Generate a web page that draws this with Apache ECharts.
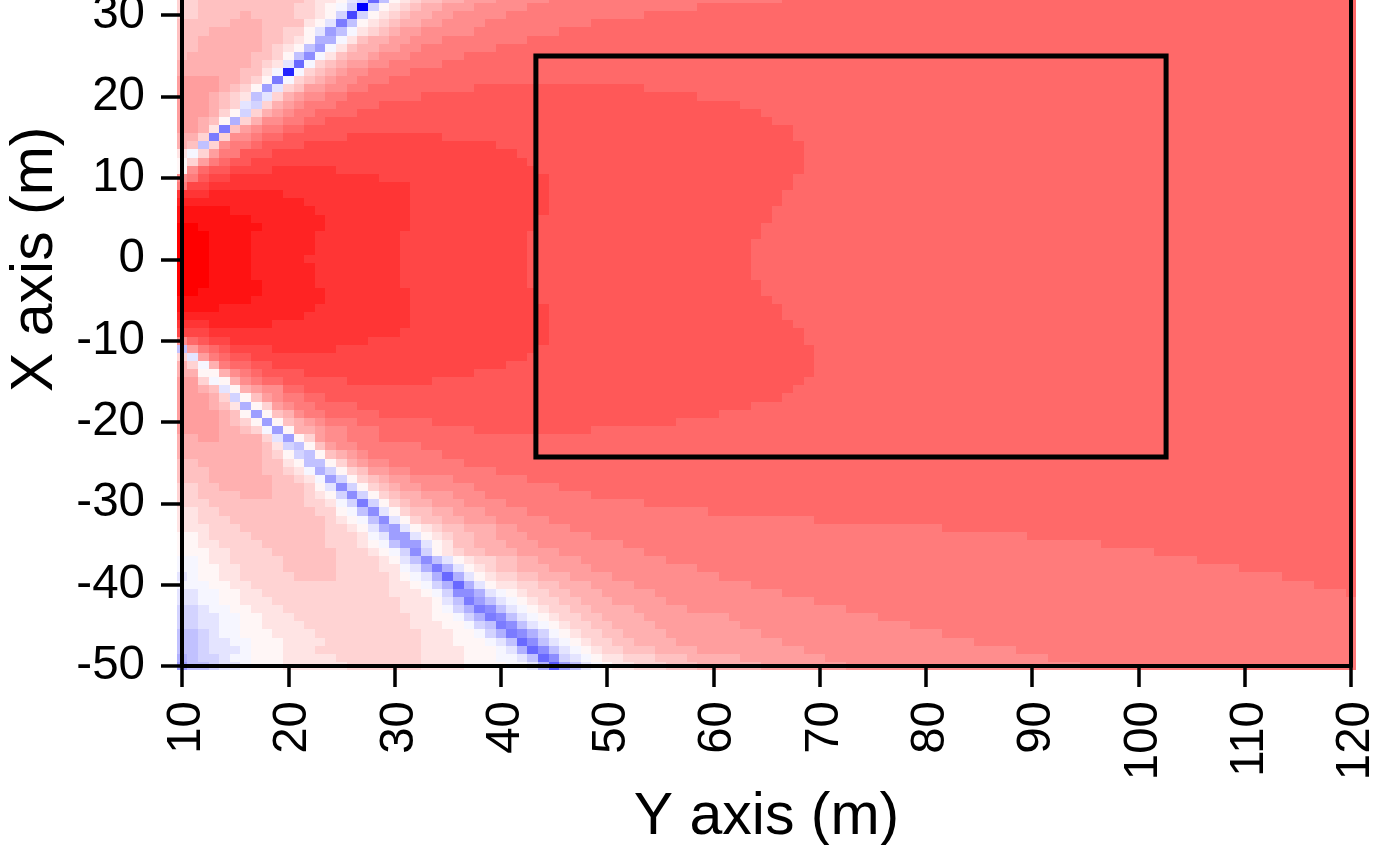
<!DOCTYPE html>
<html>
<head>
<meta charset="utf-8">
<style>html,body{margin:0;padding:0;background:#fff}#c{width:1373px;height:845px}</style>
<script src="https://cdn.jsdelivr.net/npm/echarts@6/dist/echarts.min.js"></script>
</head>
<body>
<div id="c"></div>
<script>
// Y axis (m) ticks along the bottom, X axis (m) ticks up the side
const xTicks = [10,20,30,40,50,60,70,80,90,100,110,120];
const yTicks = [-50,-40,-30,-20,-10,0,10,20,30,40,50];
const xFirst = 10, xLast = 120;
const yFirstRow = 32;
// Signed colour level per cell, top row first.
// Each token is level:lastColumn (a bare level runs to the last column).
const rows = [
"3:11 4:21 3:22 2:24 1:25 -2:26 -3:27 -9:28 -4:29 1:30 2:31 3:32 4:34 5:36 6:39 7:44 8:66 9",
"3:11 4:20 3:22 2:23 1:24 -1:25 -3:26 -15:27 -3:28 1:29 2:30 3:31 4:32 5:34 6:37 7:42 8:58 9",
"3:11 4:15 5:16 4:20 3:22 2:23 1:24 -3:25 -11:26 -3:27 1:28 2:29 3:30 4:31 5:33 6:35 7:40 8:53 9",
"4:14 5:17 4:21 2:22 1:23 -2:24 -8:25 -4:26 1:27 2:28 3:29 4:30 5:32 6:34 7:38 8:48 9",
"4:12 5:17 4:19 3:21 1:22 -2:23 -6:24 -4:25 -1:26 2:27 3:28 4:29 5:30 6:32 7:37 8:45 9",
"4:11 5:17 4:19 3:20 2:21 1:22 -5:24 -1:25 2:26 4:27 5:29 6:31 7:34 8:42 9",
"4:11 5:17 4:18 3:19 2:20 1:21 -4:22 -6:23 -1:24 2:25 4:26 5:28 6:30 7:32 8:39 9",
"4:10 5:16 4:18 3:19 1:20 -4:21 -7:22 -1:23 2:24 4:25 5:27 6:28 7:31 8:36 9",
"5:16 4:17 3:18 2:19 -2:20 -9:21 -1:22 3:23 4:24 5:25 6:27 7:29 8:34 9",
"5:15 4:17 2:18 -1:19 -13:20 -1:21 3:22 4:23 5:24 6:25 7:27 8:31 9",
"6:13 5:15 4:16 3:17 1:18 -8:19 -1:20 3:21 4:22 5:23 6:24 7:26 8:29 9",
"6:13 5:14 4:15 3:16 1:17 -6:18 -2:19 3:20 4:21 6:23 7:25 8:27 9:37 10:53 9",
"6:12 5:13 4:14 3:15 2:16 -4:17 -2:18 3:19 5:20 6:21 7:23 8:25 9:32 10:58 9",
"6:12 5:13 4:14 3:15 -2:16 -3:17 3:18 5:19 6:20 7:21 8:24 9:28 10:62 9",
"6:12 5:13 3:14 1:15 -3:16 3:17 5:18 6:19 7:20 8:22 9:26 10:64 9",
"6:11 5:12 4:13 1:14 -5:15 3:16 5:17 7:19 8:21 9:23 10:65 9",
"6:11 5:12 2:13 -8:14 4:15 6:16 7:17 8:19 9:21 10:67 9",
"5:11 3:12 -8:13 3:14 7:16 8:17 9:19 10:25 11:34 10:67 9",
"5:10 4:11 -4:12 3:13 7:14 8:16 9:17 10:21 11:39 10:68 9",
"2:10 -1:11 3:12 6:13 8:15 10:18 11:41 10:68 9",
"1:10 3:11 6:12 8:13 9:14 10:16 11:42 10:68 9",
"1:10 7:11 9:12 10:14 11:18 12:24 11:43 10:68 9",
"7:10 8:11 10:12 11:14 12:28 11:44 10:67 9",
"8:10 11:12 12:31 11:44 10:67 9",
"12:12 13:19 12:31 11:44 10:66 9",
"13:21 12:31 11:44 10:66 9",
"14:14 13:22 12:31 11:44 10:65 9",
"14:16 13:23 12:31 11:43 10:65 9",
"15:11 14:17 13:23 12:31 11:43 10:64 9",
"15:12 14:16 13:22 12:30 11:42 10:64 9",
"15:12 14:16 13:22 12:30 11:42 10:63 9",
"15:12 14:16 13:22 12:30 11:42 10:63 9",
"15:12 14:16 13:21 12:30 11:42 10:63 9",
"15:12 14:16 13:22 12:30 11:42 10:63 9",
"15:12 14:16 13:22 12:30 11:42 10:63 9",
"15:12 14:17 13:22 12:30 11:42 10:64 9",
"15:11 14:17 13:23 12:31 11:43 10:64 9",
"14:16 13:23 12:31 11:43 10:65 9",
"14:13 13:22 12:31 11:44 10:66 9",
"13:21 12:31 11:44 10:66 9",
"12:12 13:18 12:31 11:44 10:67 9",
"11:12 12:30 11:44 10:68 9",
"7:10 9:11 10:12 11:14 12:27 11:44 10:68 9",
"-4:10 6:11 8:12 9:13 10:14 11:18 12:24 11:43 10:69 9",
"3:10 -2:11 6:12 8:13 9:14 10:16 11:42 10:69 9",
"5:10 3:11 -1:12 5:13 8:14 9:16 10:18 11:40 10:69 9",
"5:11 1:13 5:14 7:15 8:16 9:17 10:21 11:37 10:69 9",
"6:11 3:12 -1:13 1:14 5:15 7:16 8:17 9:19 10:25 11:33 10:68 9",
"6:11 5:12 4:13 -2:14 1:15 5:16 6:17 7:19 9:21 10:67 9",
"6:12 5:13 3:14 -3:15 1:16 4:17 6:18 7:19 8:21 9:23 10:66 9",
"6:12 5:13 4:14 2:15 -5:16 1:17 3:18 6:19 7:20 8:22 9:26 10:63 9",
"6:13 5:14 4:15 1:16 -6:17 1:18 4:19 5:20 7:21 8:23 9:28 10:60 9",
"6:13 5:14 4:15 3:16 1:17 -6:18 1:19 4:20 5:21 6:22 7:23 8:26 9:33 10:56 9",
"6:13 5:15 4:16 3:17 -1:18 -6:19 1:20 5:21 5:22 6:23 7:25 8:28 9:37 10:48 9",
"5:11 6:13 5:17 3:18 -2:19 -6:20 1:21 3:22 6:23 7:25 8:28 9",
"5:17 4:18 2:19 -3:20 -4:21 1:22 4:23 6:24 7:26 8:32 9",
"5:17 4:18 3:19 1:20 -3:21 -4:22 1:23 4:24 5:25 6:26 7:27 8:34 9",
"4:11 5:17 4:19 2:20 1:21 -4:23 1:24 3:25 5:26 6:27 7:29 8:36 9",
"4:12 5:17 4:19 3:20 2:21 -1:22 -5:23 -3:24 1:25 3:26 4:27 6:29 7:31 8:39 9",
"4:12 5:18 4:20 3:21 2:22 -1:23 -6:24 -3:25 1:26 3:27 4:28 5:29 6:31 7:35 8:42 9",
"3:11 4:13 5:18 4:21 3:22 1:23 -2:24 -7:25 -3:26 1:27 3:28 4:29 5:30 6:32 7:37 8:45 9",
"3:11 4:15 5:18 4:21 3:22 2:23 1:24 -3:25 -7:26 -3:27 1:28 3:29 4:30 5:32 6:35 7:38 8:48 9",
"3:12 4:21 3:23 2:24 -1:25 -3:26 -8:27 -3:28 1:29 3:30 4:31 5:33 6:36 7:40 8:53 9",
"2:11 3:13 4:22 3:24 1:25 -1:26 -4:27 -7:28 -2:29 1:30 3:31 4:33 5:35 6:38 7:42 8:59 9",
"2:11 3:14 4:23 3:24 2:25 1:26 -1:27 -4:28 -7:29 -2:30 1:31 3:32 4:34 5:36 6:39 7:44 8:69 9",
"2:12 3:15 4:23 3:25 2:26 1:27 -2:28 -5:29 -6:30 -2:31 1:32 2:33 3:34 4:36 5:39 6:41 7:46 8:81 9",
"1:11 2:12 3:16 4:23 3:26 2:27 -1:28 -2:29 -6:31 -2:32 1:33 2:34 3:35 4:37 5:39 6:42 7:48 8:89 9",
"1:11 2:13 3:17 4:23 3:26 2:27 1:28 -1:29 -4:30 -6:32 -2:33 1:34 2:35 4:37 5:40 6:43 7:51 8:96 9",
"1:12 2:14 3:18 4:24 3:27 2:28 1:29 -1:30 -3:31 -7:32 -3:33 1:34 2:35 3:36 4:38 5:41 6:45 7:53 8:101 9",
"-1:11 1:12 2:14 3:19 4:24 3:28 2:29 1:30 -2:31 -4:32 -7:33 -4:34 -2:35 1:36 2:37 3:39 4:41 5:43 6:47 7:55 8:105 9",
"-1:11 1:13 2:15 3:19 4:24 3:28 2:30 -1:31 -2:32 -5:33 -8:34 -5:35 -2:36 1:37 2:38 3:39 4:41 5:44 6:48 7:58 8:109 9",
"-2:10 -1:11 1:13 2:15 3:20 4:24 3:29 2:30 1:31 -1:32 -2:33 -5:34 -9:35 -5:36 -2:37 1:38 2:39 3:41 4:43 5:46 6:50 7:60 8:113 9",
"-1:12 1:14 2:16 3:29 2:31 1:32 -1:33 -3:34 -5:35 -9:36 -5:37 -2:38 1:39 2:41 3:43 4:45 5:48 6:52 7:63 8:116 9",
"-2:11 -1:13 1:15 2:17 3:29 2:32 1:33 -1:34 -3:35 -7:37 -5:38 -2:39 -1:40 1:41 2:42 3:44 4:46 5:49 6:54 7:66 8:119 9",
"-2:11 -1:13 1:15 2:18 3:30 2:33 1:34 -2:35 -4:36 -8:37 -6:38 -4:39 -2:40 -1:41 1:42 2:43 3:45 4:47 5:50 6:55 7:69 8",
"-3:11 -2:12 -1:14 1:16 2:19 3:30 2:33 1:34 -1:35 -3:36 -5:37 -8:38 -7:39 -4:40 -2:41 -1:42 1:43 2:44 3:46 4:48 5:52 6:57 7:72 8",
"-3:11 -2:13 -1:15 1:17 2:20 3:31 2:33 1:35 -1:36 -3:37 -5:38 -8:39 -7:40 -4:41 -2:42 -1:43 1:44 2:45 3:47 4:49 5:53 6:61 7:75 8",
"-3:11 -2:13 -1:15 1:17 2:21 3:31 2:34 1:36 -1:37 -3:38 -4:39 -8:40 -7:41 -4:42 -2:43 -1:44 1:45 2:46 3:48 4:50 5:54 6:62 7:78 8",
"-4:11 -3:12 -2:13 -1:15 1:18 2:22 3:32 2:35 1:37 -1:38 -3:39 -5:40 -8:41 -7:42 -5:43 -3:44 -1:45 1:46 2:47 3:49 4:51 5:55 6:64 7:81 8",
"-4:11 -3:12 -2:14 -1:16 1:19 2:23 3:32 2:35 1:38 -1:39 -2:40 -4:41 -9:42 -7:43 -4:44 -2:45 -1:46 1:47 2:48 3:50 4:52 5:56 6:66 7:84 8",
"-4:11 -3:12 -2:15 -1:16 1:19 2:22 3:32 2:36 1:39 -1:40 -2:41 -5:42 -9:43 -7:44 -4:45 -2:46 -1:47 1:48 2:49 3:51 4:54 5:58 6:68 7:88 8",
"-5:10 -4:11 -3:13 -2:14 -1:16 1:19 2:24 3:32 2:36 1:39 -1:41 -2:42 -4:43 -9:44 -7:45 -3:46 -2:47 -1:48 1:49 2:51 3:54 4:57 5:62 6:70 7:91 8",
"-6:10 -4:12 -3:13 -2:15 -1:16 1:19 2:25 3:32 2:36 1:40 -1:42 -2:43 -5:44 -10:45 -6:46 -4:47 -2:48 -1:49 1:50 2:52 3:55 4:58 5:64 6:72 7:94 8"
];
// Outline box, in axis units
const boxX = [43.3, 102.6, 102.6, 43.3, 43.3];
const boxY = [25, 25, -24.3, -24.3, 25];
// Channel value for |level| 1..15: 30-step blue-white-red ramp
const ramp = [255,246,228,211,193,176,158,141,123,105,88,70,53,35,18,0];

const cells = [];
rows.forEach(function (row, r) {
  let x = xFirst;
  row.split(' ').forEach(function (tok) {
    const p = tok.split(':');
    const end = p.length > 1 ? +p[1] : xLast;
    for (; x <= end; x++) cells.push([x, yFirstRow - r, +p[0]]);
  });
});
function levelColor(v) {
  const c = ramp[Math.abs(v)];
  return v >= 0 ? 'rgb(255,' + c + ',' + c + ')' : 'rgb(' + c + ',' + c + ',255)';
}
const FONT = '"Liberation Sans", Arial, sans-serif';
const chart = echarts.init(document.getElementById('c'), null, {renderer: 'canvas'});
const axisStroke = {color: '#000', width: 4};
const tickStroke = {color: '#000', width: 3.5};
chart.setOption({
  animation: false,
  backgroundColor: '#fff',
  grid: {left: 182, width: 1169, top: -147.5, height: 813.5, containLabel: false, outerBoundsMode: 'none'},
  xAxis: {
    type: 'value', min: xTicks[0], max: xTicks[xTicks.length - 1], interval: 10, z: 5,
    name: 'Y axis (m)', nameLocation: 'middle', nameGap: 121,
    nameTextStyle: {fontFamily: FONT, fontSize: 59, color: '#000'},
    axisLine: {show: true, onZero: false, lineStyle: axisStroke},
    axisTick: {show: true, length: 21, lineStyle: tickStroke},
    axisLabel: {rotate: 90, margin: 35, hideOverlap: false, formatter: '{n|{value}}',
      rich: {n: {fontFamily: FONT, fontSize: 47.5, color: '#000', padding: [10, 0, 0, 0]}}},
    splitLine: {show: false}
  },
  yAxis: [{
    type: 'value', min: yTicks[0], max: yTicks[yTicks.length - 1], interval: 10, z: 5,
    name: 'X axis (m)', nameLocation: 'middle', nameGap: 116,
    nameTextStyle: {fontFamily: FONT, fontSize: 59, color: '#000'},
    axisLine: {show: true, onZero: false, lineStyle: axisStroke},
    axisTick: {show: true, length: 21, lineStyle: tickStroke},
    axisLabel: {fontFamily: FONT, fontSize: 47.5, color: '#000', margin: 37, hideOverlap: false},
    splitLine: {show: false}
  }, {
    type: 'value', min: yTicks[0], max: yTicks[yTicks.length - 1], interval: 10, position: 'right', z: 5,
    axisLine: {show: true, onZero: false, lineStyle: axisStroke},
    axisTick: {show: false}, axisLabel: {show: false}, splitLine: {show: false}
  }],
  series: [{
    type: 'custom', z: 1, progressive: 0, silent: true,
    coordinateSystem: 'cartesian2d', xAxisIndex: 0, yAxisIndex: 0,
    encode: {x: 0, y: 1},
    data: cells,
    renderItem: function (params, api) {
      const x = api.value(0), y = api.value(1);
      const a = api.coord([x - 0.5, y + 0.5]);
      const b = api.coord([x + 0.5, y - 0.5]);
      const x0 = Math.round(a[0]), y0 = Math.round(a[1]);
      return {
        type: 'rect',
        shape: {x: x0, y: y0, width: Math.round(b[0]) - x0, height: Math.round(b[1]) - y0},
        style: {fill: levelColor(api.value(2))}
      };
    }
  }, {
    type: 'line', z: 6, silent: true, symbol: 'none', xAxisIndex: 0, yAxisIndex: 0,
    lineStyle: {color: '#000', width: 5, cap: 'square', join: 'miter'},
    data: boxX.map(function (v, i) { return [v, boxY[i]]; })
  }]
});
</script>
</body>
</html>
